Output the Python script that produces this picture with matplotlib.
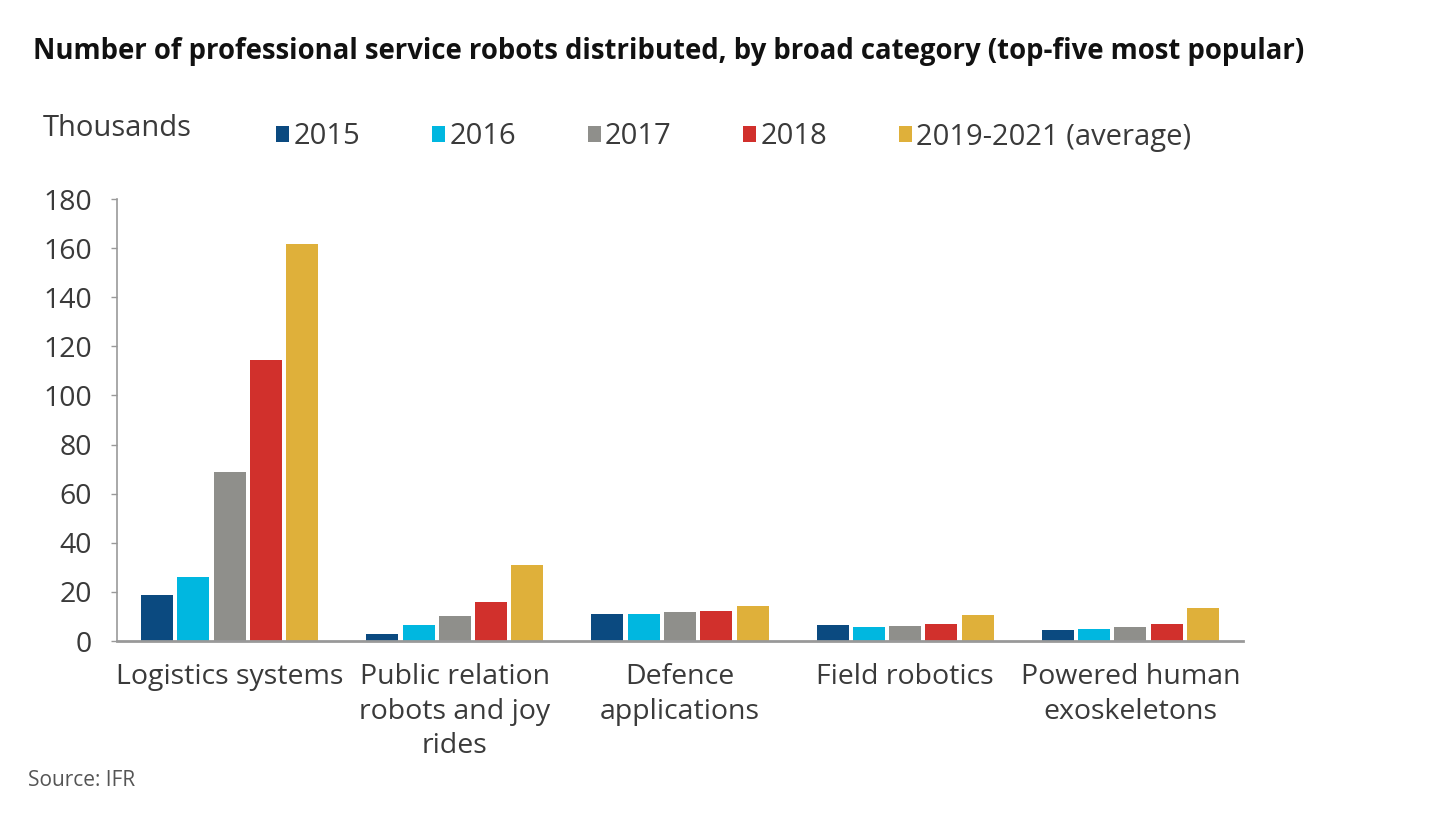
import matplotlib
matplotlib.use("Agg")
import matplotlib.pyplot as plt
import numpy as np

categories = ["Logistics systems", "Public relation\nrobots and joy\nrides", "Defence\napplications",
              "Field robotics", "Powered human\nexoskeletons"]
series_names = ["2015", "2016", "2017", "2018", "2019-2021 (average)"]
v2015 = [18.7, 2.9, 11.0, 6.5, 4.6]
v2016 = [26.2, 6.5, 10.9, 5.6, 5.0]
v2017 = [68.7, 10.2, 11.7, 6.0, 5.7]
v2018 = [114.4, 15.7, 12.2, 7.1, 6.8]
vavg = [161.6, 30.9, 14.3, 10.4, 13.3]
yticks = [0, 20, 40, 60, 80, 100, 120, 140, 160, 180]
colors = ["#0b4a80", "#00b7e0", "#8f8f8b", "#d1302c", "#dfb03a"]

txt = "#3a3a3a"
plt.rcParams['font.family'] = ['Open Sans', 'DejaVu Sans']
fig = plt.figure(figsize=(14.43, 8.17), dpi=100)
ax = fig.add_axes([117/1443, 176/817, 1126/1443, 442/817])

x = np.arange(len(categories))
step = 0.161
width = 0.142
handles = []
for i, (vals, c) in enumerate(zip([v2015, v2016, v2017, v2018, vavg], colors)):
    b = ax.bar(x + (i - 2) * step, vals, width=width, color=c, label=series_names[i])
    handles.append(b)

ax.set_xlim(-0.5, len(categories) - 0.5)
ax.set_ylim(0, 180)
ax.set_yticks(yticks)
ax.set_xticks(x)
ax.set_xticklabels(categories, fontsize=20.5, color=txt, linespacing=1.3)
ax.tick_params(axis='x', length=0, pad=16)
ax.tick_params(axis='y', length=4, width=1, color="#999999", labelsize=20.5, labelcolor=txt, pad=14)
for s in ["top", "right"]:
    ax.spines[s].set_visible(False)
ax.spines["left"].set_color("#999999")
ax.spines["left"].set_linewidth(1.2)
ax.spines["bottom"].set_color("#999999")
ax.spines["bottom"].set_linewidth(2)

fig.text(33/1443, 1 - 51/817, "Number of professional service robots distributed, by broad category (top-five most popular)",
         fontsize=19.8, fontweight='bold', color="#111111", va='center', ha='left')
fig.text(43/1443, 1 - 129/817, "Thousands", fontsize=21, color=txt, va='center', ha='left')
fig.text(28/1443, 1 - 781/817, "Source: IFR", fontsize=15, color="#555555", va='center', ha='left')

leg = fig.legend(handles=handles, labels=series_names, loc='center left',
                 bbox_to_anchor=(250/1443, 1 - 137/817), ncol=5, frameon=False,
                 fontsize=21, handlelength=0.45, handleheight=0.45, handletextpad=0.15,
                 columnspacing=2.45, labelcolor=txt)

fig.savefig("out.png", dpi=100)
